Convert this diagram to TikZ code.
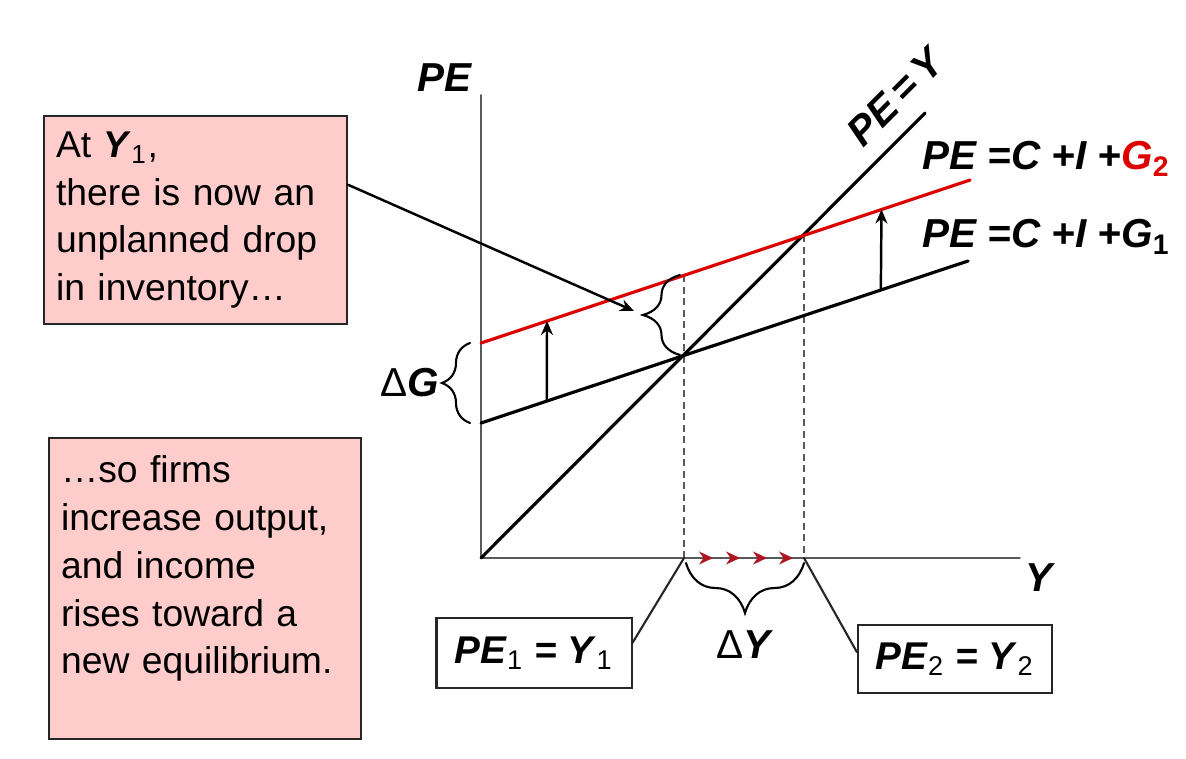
\documentclass[tikz,border=0pt]{standalone}
\usepackage{fontspec}
\setmainfont{Liberation Sans}
\usetikzlibrary{arrows.meta,decorations.pathreplacing,calc}
\definecolor{notepink}{RGB}{255,204,204}
\definecolor{shiftred}{RGB}{220,0,0}
\definecolor{tickred}{RGB}{175,20,35}
\newcommand{\ev}[1]{\textbf{\textit{#1}}}

\begin{document}
\begin{tikzpicture}[x=0.01cm,y=-0.01cm,>={Stealth[length=1.4mm,width=1.2mm]},line cap=round,
  axis/.style={gray!70!black,line width=0.5pt},
  sched/.style={line width=0.9pt},
  guide/.style={gray!70!black,line width=0.45pt,dash pattern=on 0.7mm off 0.45mm,line cap=butt},
  note/.style={draw=gray!30!black,fill=notepink,line width=0.6pt,align=left,inner xsep=0.12cm,font=\fontsize{10.6}{13.6}\selectfont},
  eqbox/.style={draw=gray!30!black,fill=white,line width=0.6pt,font=\fontsize{11}{13}\selectfont},
  lab/.style={font=\fontsize{11.5}{14}\selectfont},
  curly/.style={decorate,decoration={brace,amplitude=#1},line width=0.6pt}]
\useasboundingbox (0,0) rectangle (1186,758);
\coordinate (O) at (481,558);
\coordinate (ytop) at (481,95);
\coordinate (xend) at (1020,558);
\coordinate (diag) at (925,113);
\coordinate (g1a) at (481,423);
\coordinate (g1b) at (968,261);
\coordinate (g2a) at (481,343);
\coordinate (g2b) at (970,180);
\coordinate (e1r) at (684,275);
\coordinate (y1) at (684,558);
\coordinate (e2) at (804,235);
\coordinate (y2) at (804,558);
\coordinate (dip) at (634,311);
\draw[axis] (ytop) -- (O) -- (xend);
\draw[guide] (e1r) -- (y1);
\draw[guide] (e2) -- (y2);
\draw[sched] (O) -- (diag);
\draw[sched] (g1a) -- (g1b);
\draw[sched,shiftred] (g2a) -- (g2b);
\draw[->,line width=0.7pt] ($(g1a)!0.135!(g1b)$) -- ($(g2a)!0.135!(g2b)$);
\draw[->,line width=0.7pt] ($(g1a)!0.821!(g1b)$) -- ($(g2a)!0.819!(g2b)$);
\foreach \x in {713,740,767,793}
  \draw[tickred,-{Stealth[length=1.4mm,width=1.3mm]}] (\x-6,558) -- (\x,558);
\draw[curly=0.28cm] (470,423) -- (470,343);
\draw[curly=0.37cm] (680,355) -- (680,275);
\draw[curly=0.5cm] (804,563) -- (686,563);
\node[lab] (pe) at (445,78) {\ev{PE}};
\node[lab] (yl) at (1040,578) {\ev{Y}};
\node[lab,rotate=45,inner sep=1pt] (diaglab) at (896,96) {\ev{PE\,=\,Y}};
\node[lab,anchor=base west] (g2lab) at (910,170) {\ev{PE =C +I +}\textcolor{shiftred}{\ev{G}\textbf{\textsubscript{2}}}};
\node[lab,anchor=base west] (g1lab) at (910,248) {\ev{PE =C +I +G}\textbf{\textsubscript{1}}};
\node[lab] (dG) at (410,383) {Δ\ev{G}};
\node[lab] (dY) at (745,645) {Δ\ev{Y}};
\node[note,anchor=north west,text width=2.79cm,minimum height=2.08cm] (drop) at (43,115)
  {At \ev{Y}\textsubscript{1},\\there is now an\\unplanned drop\\in inventory…};
\node[note,anchor=north west,text width=2.88cm,minimum height=3.01cm] (rise) at (48,437)
  {…so firms\\increase output,\\and income\\rises toward a\\new equilibrium.\\\mbox{}};
\node[eqbox,minimum width=1.95cm,minimum height=0.70cm] (pe1) at (534,653)
  {\ev{PE}\textsubscript{1} \ev{=} \ev{Y}\textsubscript{1}};
\node[eqbox,minimum width=1.94cm,minimum height=0.68cm] (pe2) at (955,659)
  {\ev{PE}\textsubscript{2} \ev{=} \ev{Y}\textsubscript{2}};
\draw[gray!30!black,line width=0.6pt] (y1) -- (pe1.6);
\draw[gray!30!black,line width=0.6pt] (y2) -- (pe2.176);
\draw[->,line width=0.7pt] (drop.13) -- (dip);
\end{tikzpicture}
\end{document}
